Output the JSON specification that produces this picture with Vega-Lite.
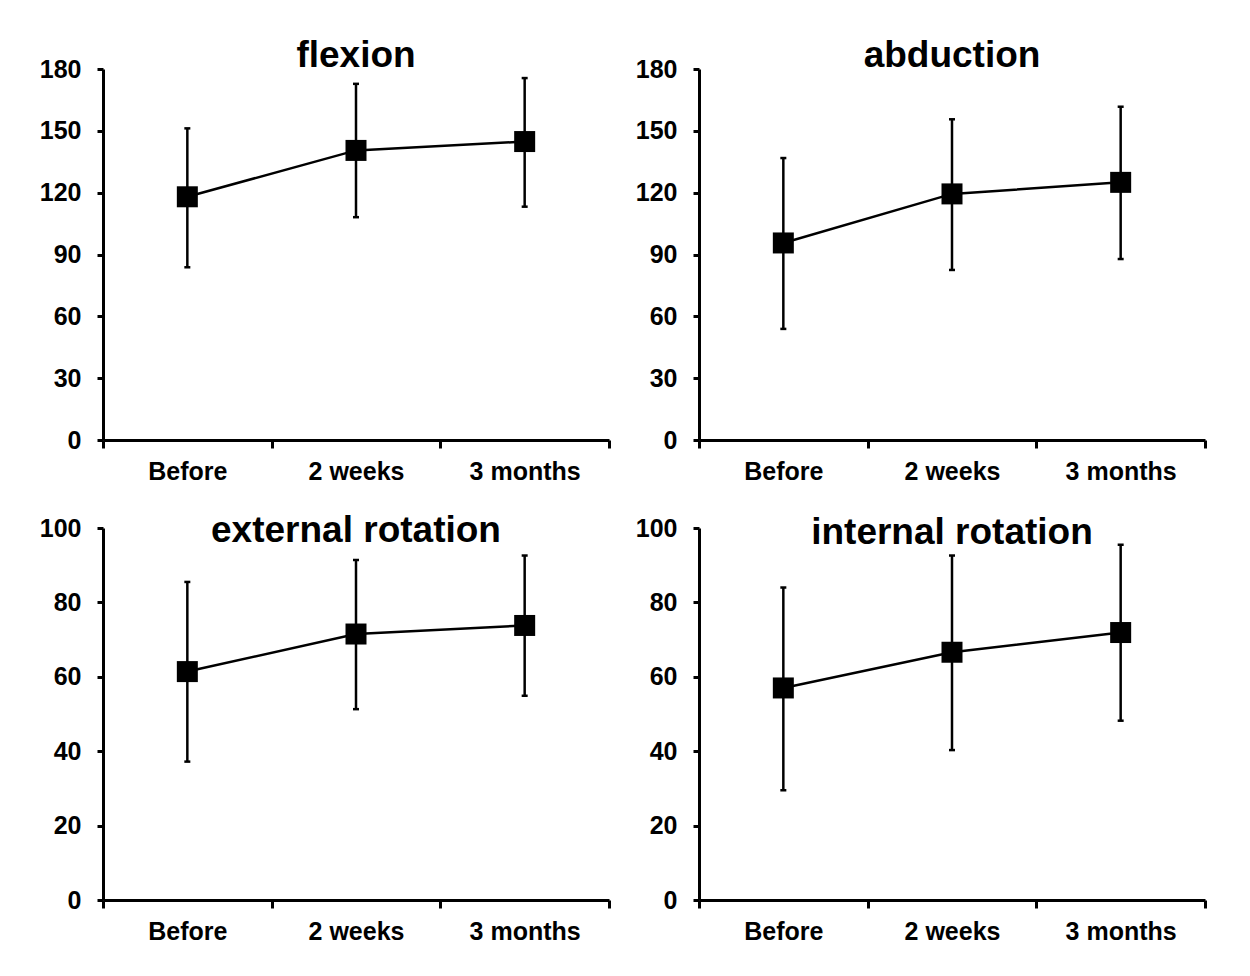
{
  "$schema": "https://vega.github.io/schema/vega-lite/v6.json",
  "padding": {"left": 39, "top": 37, "right": 0, "bottom": 0},
  "background": "white",
  "datasets": {
    "rom": [
      {"panel": "flexion", "time": "Before", "mean": 118.0, "lo": 83.8, "hi": 151.2},
      {"panel": "flexion", "time": "2 weeks", "mean": 140.5, "lo": 108.1, "hi": 172.8},
      {"panel": "flexion", "time": "3 months", "mean": 144.8, "lo": 113.2, "hi": 175.6},
      {"panel": "abduction", "time": "Before", "mean": 95.6, "lo": 53.9, "hi": 136.8},
      {"panel": "abduction", "time": "2 weeks", "mean": 119.4, "lo": 82.5, "hi": 155.6},
      {"panel": "abduction", "time": "3 months", "mean": 125.0, "lo": 87.8, "hi": 161.7},
      {"panel": "external rotation", "time": "Before", "mean": 61.4, "lo": 37.2, "hi": 85.5},
      {"panel": "external rotation", "time": "2 weeks", "mean": 71.5, "lo": 51.3, "hi": 91.4},
      {"panel": "external rotation", "time": "3 months", "mean": 73.8, "lo": 54.9, "hi": 92.6},
      {"panel": "internal rotation", "time": "Before", "mean": 57.0, "lo": 29.5, "hi": 84.0},
      {"panel": "internal rotation", "time": "2 weeks", "mean": 66.6, "lo": 40.3, "hi": 92.6},
      {"panel": "internal rotation", "time": "3 months", "mean": 71.9, "lo": 48.2, "hi": 95.5}
    ]
  },
  "data": {"name": "rom"},
  "columns": 2,
  "spacing": {"column": 24, "row": 28},
  "concat": [
    {
      "width": 506, "height": 371,
      "title": {"text": "flexion", "offset": -18},
      "transform": [{"filter": "datum.panel === 'flexion'"}],
      "encoding": {"x": {"field": "time", "type": "nominal", "sort": ["Before", "2 weeks", "3 months"], "scale": {"type": "band", "paddingInner": 0, "paddingOuter": 0}, "axis": {"title": null, "labelAngle": 0, "tickBand": "extent"}}},
      "layer": [
        {"mark": {"type": "rule", "strokeWidth": 2.5, "color": "black"}, "encoding": {"y": {"field": "lo", "type": "quantitative", "scale": {"domain": [0, 180], "nice": false}, "axis": {"title": null, "values": [0, 30, 60, 90, 120, 150, 180]}}, "y2": {"field": "hi"}}},
        {"mark": {"type": "tick", "thickness": 2.5, "size": 6, "color": "black", "opacity": 1}, "encoding": {"y": {"field": "lo", "type": "quantitative", "scale": {"domain": [0, 180], "nice": false}}}},
        {"mark": {"type": "tick", "thickness": 2.5, "size": 6, "color": "black", "opacity": 1}, "encoding": {"y": {"field": "hi", "type": "quantitative", "scale": {"domain": [0, 180], "nice": false}}}},
        {"mark": {"type": "line", "strokeWidth": 2.5, "color": "black"}, "encoding": {"y": {"field": "mean", "type": "quantitative", "scale": {"domain": [0, 180], "nice": false}}}},
        {"mark": {"type": "point", "shape": "square", "filled": true, "size": 441, "color": "black", "opacity": 1}, "encoding": {"y": {"field": "mean", "type": "quantitative", "scale": {"domain": [0, 180], "nice": false}}}}
      ]
    },
    {
      "width": 506, "height": 371,
      "title": {"text": "abduction", "offset": -18},
      "transform": [{"filter": "datum.panel === 'abduction'"}],
      "encoding": {"x": {"field": "time", "type": "nominal", "sort": ["Before", "2 weeks", "3 months"], "scale": {"type": "band", "paddingInner": 0, "paddingOuter": 0}, "axis": {"title": null, "labelAngle": 0, "tickBand": "extent"}}},
      "layer": [
        {"mark": {"type": "rule", "strokeWidth": 2.5, "color": "black"}, "encoding": {"y": {"field": "lo", "type": "quantitative", "scale": {"domain": [0, 180], "nice": false}, "axis": {"title": null, "values": [0, 30, 60, 90, 120, 150, 180]}}, "y2": {"field": "hi"}}},
        {"mark": {"type": "tick", "thickness": 2.5, "size": 6, "color": "black", "opacity": 1}, "encoding": {"y": {"field": "lo", "type": "quantitative", "scale": {"domain": [0, 180], "nice": false}}}},
        {"mark": {"type": "tick", "thickness": 2.5, "size": 6, "color": "black", "opacity": 1}, "encoding": {"y": {"field": "hi", "type": "quantitative", "scale": {"domain": [0, 180], "nice": false}}}},
        {"mark": {"type": "line", "strokeWidth": 2.5, "color": "black"}, "encoding": {"y": {"field": "mean", "type": "quantitative", "scale": {"domain": [0, 180], "nice": false}}}},
        {"mark": {"type": "point", "shape": "square", "filled": true, "size": 441, "color": "black", "opacity": 1}, "encoding": {"y": {"field": "mean", "type": "quantitative", "scale": {"domain": [0, 180], "nice": false}}}}
      ]
    },
    {
      "width": 506, "height": 372,
      "title": {"text": "external rotation", "offset": -34},
      "transform": [{"filter": "datum.panel === 'external rotation'"}],
      "encoding": {"x": {"field": "time", "type": "nominal", "sort": ["Before", "2 weeks", "3 months"], "scale": {"type": "band", "paddingInner": 0, "paddingOuter": 0}, "axis": {"title": null, "labelAngle": 0, "tickBand": "extent"}}},
      "layer": [
        {"mark": {"type": "rule", "strokeWidth": 2.5, "color": "black"}, "encoding": {"y": {"field": "lo", "type": "quantitative", "scale": {"domain": [0, 100], "nice": false}, "axis": {"title": null, "values": [0, 20, 40, 60, 80, 100]}}, "y2": {"field": "hi"}}},
        {"mark": {"type": "tick", "thickness": 2.5, "size": 6, "color": "black", "opacity": 1}, "encoding": {"y": {"field": "lo", "type": "quantitative", "scale": {"domain": [0, 100], "nice": false}}}},
        {"mark": {"type": "tick", "thickness": 2.5, "size": 6, "color": "black", "opacity": 1}, "encoding": {"y": {"field": "hi", "type": "quantitative", "scale": {"domain": [0, 100], "nice": false}}}},
        {"mark": {"type": "line", "strokeWidth": 2.5, "color": "black"}, "encoding": {"y": {"field": "mean", "type": "quantitative", "scale": {"domain": [0, 100], "nice": false}}}},
        {"mark": {"type": "point", "shape": "square", "filled": true, "size": 441, "color": "black", "opacity": 1}, "encoding": {"y": {"field": "mean", "type": "quantitative", "scale": {"domain": [0, 100], "nice": false}}}}
      ]
    },
    {
      "width": 506, "height": 372,
      "title": {"text": "internal rotation", "offset": -36},
      "transform": [{"filter": "datum.panel === 'internal rotation'"}],
      "encoding": {"x": {"field": "time", "type": "nominal", "sort": ["Before", "2 weeks", "3 months"], "scale": {"type": "band", "paddingInner": 0, "paddingOuter": 0}, "axis": {"title": null, "labelAngle": 0, "tickBand": "extent"}}},
      "layer": [
        {"mark": {"type": "rule", "strokeWidth": 2.5, "color": "black"}, "encoding": {"y": {"field": "lo", "type": "quantitative", "scale": {"domain": [0, 100], "nice": false}, "axis": {"title": null, "values": [0, 20, 40, 60, 80, 100]}}, "y2": {"field": "hi"}}},
        {"mark": {"type": "tick", "thickness": 2.5, "size": 6, "color": "black", "opacity": 1}, "encoding": {"y": {"field": "lo", "type": "quantitative", "scale": {"domain": [0, 100], "nice": false}}}},
        {"mark": {"type": "tick", "thickness": 2.5, "size": 6, "color": "black", "opacity": 1}, "encoding": {"y": {"field": "hi", "type": "quantitative", "scale": {"domain": [0, 100], "nice": false}}}},
        {"mark": {"type": "line", "strokeWidth": 2.5, "color": "black"}, "encoding": {"y": {"field": "mean", "type": "quantitative", "scale": {"domain": [0, 100], "nice": false}}}},
        {"mark": {"type": "point", "shape": "square", "filled": true, "size": 441, "color": "black", "opacity": 1}, "encoding": {"y": {"field": "mean", "type": "quantitative", "scale": {"domain": [0, 100], "nice": false}}}}
      ]
    }
  ],
  "config": {
    "view": {"stroke": null},
    "axis": {"domainColor": "black", "domainWidth": 3, "tickColor": "black", "tickWidth": 3, "labelFont": "Liberation Sans", "labelFontWeight": "bold", "labelFontSize": 25, "labelColor": "black", "grid": false},
    "axisY": {"labelPadding": 16, "tickSize": 6},
    "axisX": {"labelPadding": 11, "tickSize": 8},
    "title": {"font": "Liberation Sans", "fontWeight": "bold", "fontSize": 37, "color": "black", "anchor": "middle"}
  }
}
